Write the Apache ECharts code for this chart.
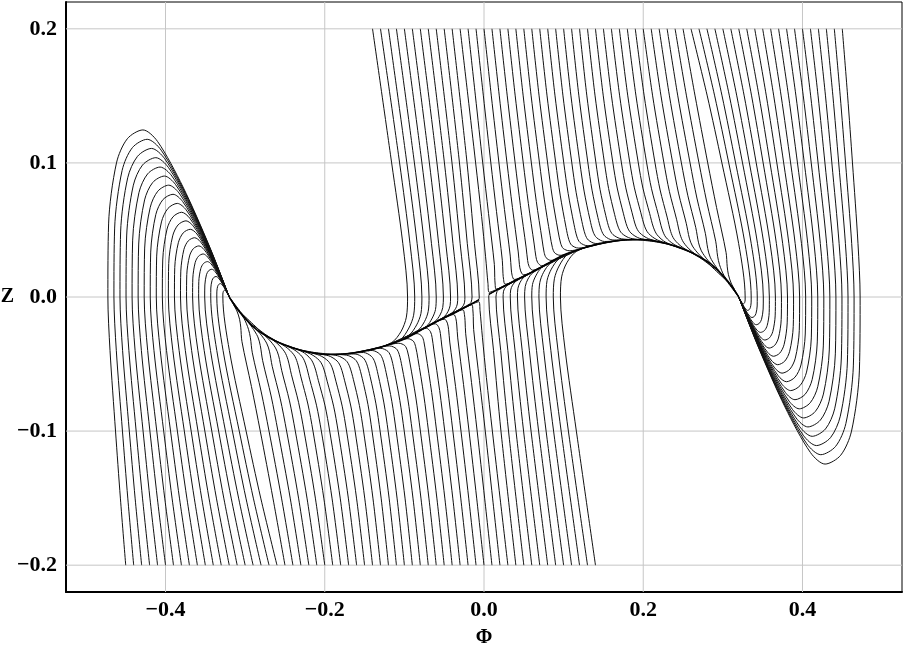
<!DOCTYPE html>
<html><head><meta charset="utf-8">
<script src="https://cdn.jsdelivr.net/npm/echarts@6/dist/echarts.min.js"></script>
<style>html,body{margin:0;padding:0;background:#fff}#c{width:905px;height:652px}</style>
</head><body><div id="c"></div>
<script>
const xTicks = [-0.4, -0.2, 0, 0.2, 0.4];
const yTicks = [-0.2, -0.1, 0, 0.1, 0.2];
const xRange = [-0.525, 0.525];
const yRange = [-0.22, 0.22];

// curves starting at Z = 0.2 that fall onto the left branch
const topLeftCurves = [
[[-0.14,0.2],[-0.116,0.1],[-0.102,0.04],[-0.096,0],[-0.0975,-0.015],[-0.104,-0.0255],[-0.116,-0.034],[-0.146,-0.0403]],
[[-0.13,0.2],[-0.106,0.1],[-0.093,0.04],[-0.087,0],[-0.0884,-0.0136],[-0.0943,-0.0231],[-0.1052,-0.0318],[-0.1352,-0.0385]],
[[-0.12,0.2],[-0.0969,0.1],[-0.084,0.04],[-0.078,0],[-0.0792,-0.0123],[-0.0846,-0.0208],[-0.0944,-0.0285],[-0.1244,-0.0364]],
[[-0.11,0.2],[-0.0874,0.1],[-0.075,0.04],[-0.069,0],[-0.0701,-0.0108],[-0.0748,-0.0184],[-0.0834,-0.0251],[-0.1134,-0.0342]],
[[-0.1,0.2],[-0.078,0.1],[-0.066,0.04],[-0.06,0],[-0.0609,-0.0093],[-0.065,-0.0157],[-0.0724,-0.0219],[-0.1024,-0.0318]],
[[-0.09,0.2],[-0.0686,0.1],[-0.057,0.04],[-0.051,0],[-0.0518,-0.0079],[-0.0552,-0.0134],[-0.0616,-0.0182],[-0.0916,-0.0285]],
[[-0.08,0.2],[-0.0591,0.1],[-0.048,0.04],[-0.042,0],[-0.0426,-0.0065],[-0.0454,-0.011],[-0.0506,-0.015],[-0.0806,-0.0252]],
[[-0.07,0.2],[-0.0497,0.1],[-0.039,0.04],[-0.033,0],[-0.0335,-0.0052],[-0.0358,-0.0088],[-0.04,-0.0117],[-0.07,-0.022]],
[[-0.06,0.2],[-0.0402,0.1],[-0.03,0.04],[-0.024,0],[-0.0244,-0.0039],[-0.0261,-0.0065],[-0.0292,-0.0086],[-0.0592,-0.0183]],
[[-0.05,0.2],[-0.0308,0.1],[-0.021,0.04],[-0.015,0],[-0.0163,-0.0041],[-0.0182,-0.0053],[-0.0482,-0.015]],
[[-0.04,0.2],[-0.0213,0.1],[-0.012,0.04],[-0.006,0],[-0.0068,-0.002],[-0.0374,-0.0118]]
];

// curves starting at Z = 0.2 that settle onto the hump
const topMidCurves = [
[[-0.03,0.2],[-0.0202,0.15],[-0.0105,0.1],[-0.003,0.06],[0.002,0.03],[0.005,0.01],[0.0065,0.0035],[0.02,0.0068],[0.05,0.0157]],
[[-0.02,0.2],[-0.0108,0.15],[-0.0016,0.1],[0.0057,0.0622],[0.013,0.0243],[0.0135,0.0145],[0.014,0.0096],[0.0151,0.0059],[0.0501,0.0157]],
[[-0.01,0.2],[-0.0008,0.15],[0.0086,0.1],[0.0157,0.0637],[0.023,0.0274],[0.0238,0.0177],[0.0246,0.013],[0.0265,0.0096],[0.0615,0.019]],
[[0,0.2],[0.0092,0.15],[0.0188,0.1],[0.0257,0.0653],[0.033,0.0305],[0.0342,0.0209],[0.0353,0.0162],[0.038,0.0131],[0.073,0.0225]],
[[0.01,0.2],[0.0192,0.15],[0.0289,0.1],[0.0357,0.0668],[0.043,0.0336],[0.0445,0.0241],[0.046,0.0195],[0.0495,0.0166],[0.0845,0.0264]],
[[0.02,0.2],[0.0292,0.15],[0.0391,0.1],[0.0457,0.0683],[0.053,0.0366],[0.0548,0.0272],[0.0567,0.0227],[0.061,0.02],[0.096,0.0302]],
[[0.03,0.2],[0.0392,0.15],[0.0493,0.1],[0.0557,0.0698],[0.063,0.0395],[0.0652,0.0301],[0.0673,0.0258],[0.0724,0.0233],[0.1074,0.0333]],
[[0.04,0.2],[0.0492,0.15],[0.0595,0.1],[0.0657,0.0713],[0.073,0.0426],[0.0755,0.0333],[0.078,0.0293],[0.0839,0.0273],[0.1189,0.0355]],
[[0.05,0.2],[0.0592,0.15],[0.0697,0.1],[0.0757,0.073],[0.083,0.046],[0.0859,0.0369],[0.0888,0.0329],[0.0955,0.0311],[0.1305,0.0379]],
[[0.06,0.2],[0.0692,0.15],[0.0799,0.1],[0.0857,0.0746],[0.093,0.0492],[0.0962,0.0402],[0.0995,0.0362],[0.107,0.0345],[0.142,0.0392]],
[[0.07,0.2],[0.0792,0.15],[0.0901,0.1],[0.0957,0.076],[0.103,0.052],[0.1065,0.0428],[0.1101,0.0386],[0.1184,0.0365],[0.1534,0.0407]],
[[0.08,0.2],[0.0892,0.15],[0.1002,0.1],[0.1057,0.0772],[0.113,0.0543],[0.1168,0.0448],[0.1206,0.0406],[0.1295,0.0383],[0.1645,0.0418]],
[[0.09,0.2],[0.0992,0.15],[0.1103,0.1],[0.1157,0.0781],[0.123,0.0562],[0.127,0.0468],[0.131,0.0425],[0.1404,0.0399],[0.1754,0.0426]],
[[0.1,0.2],[0.1092,0.15],[0.1204,0.1],[0.1257,0.079],[0.133,0.058],[0.1372,0.0484],[0.1415,0.0442],[0.1512,0.0414],[0.1862,0.0428]],
[[0.11,0.2],[0.1192,0.15],[0.1305,0.1],[0.1357,0.0797],[0.143,0.0594],[0.1474,0.0498],[0.1518,0.0453],[0.1619,0.0425],[0.1969,0.0428]],
[[0.12,0.2],[0.1292,0.15],[0.1406,0.1],[0.1457,0.0803],[0.153,0.0606],[0.1575,0.0509],[0.162,0.0465],[0.1725,0.0434],[0.2075,0.0425]],
[[0.13,0.2],[0.1395,0.15],[0.1513,0.1],[0.1565,0.0809],[0.164,0.0617],[0.1686,0.0521],[0.1732,0.0474],[0.184,0.0438],[0.219,0.0411]],
[[0.14,0.2],[0.1498,0.15],[0.1619,0.1],[0.1673,0.0813],[0.175,0.0625],[0.1797,0.0526],[0.1844,0.0478],[0.1954,0.0438],[0.2304,0.0396]],
[[0.15,0.2],[0.1601,0.15],[0.1726,0.1],[0.1781,0.0814],[0.186,0.0628],[0.1907,0.0528],[0.1955,0.0479],[0.2066,0.0435],[0.2416,0.0377]],
[[0.16,0.2],[0.1704,0.15],[0.1832,0.1],[0.1889,0.0814],[0.197,0.0628],[0.2017,0.0528],[0.2065,0.0475],[0.2176,0.0426],[0.2526,0.0352]],
[[0.17,0.2],[0.1806,0.15],[0.1938,0.1],[0.1996,0.0812],[0.208,0.0624],[0.2127,0.0521],[0.2174,0.0464],[0.2283,0.0408],[0.2633,0.0326]],
[[0.18,0.2],[0.1909,0.15],[0.2043,0.1],[0.2104,0.0807],[0.219,0.0613],[0.2236,0.0507],[0.2282,0.0447],[0.2388,0.0392],[0.2738,0.0293]],
[[0.19,0.2],[0.2012,0.15],[0.2148,0.1],[0.2212,0.0798],[0.23,0.0596],[0.2344,0.0489],[0.2388,0.0431],[0.249,0.0372],[0.284,0.025]],
[[0.2,0.2],[0.2118,0.15],[0.226,0.1],[0.2328,0.0788],[0.242,0.0576],[0.2462,0.0468],[0.2504,0.0409],[0.26,0.0345],[0.295,0.0192]],
[[0.21,0.2],[0.2223,0.15],[0.237,0.1],[0.2443,0.0775],[0.254,0.055],[0.2579,0.0439],[0.2618,0.038],[0.2708,0.0313],[0.3058,0.0115]],
[[0.22,0.2],[0.2329,0.15],[0.2479,0.1],[0.2559,0.0759],[0.266,0.0517],[0.2695,0.0404],[0.273,0.0344],[0.2812,0.0274],[0.314,0.0065]],
[[0.23,0.2],[0.2434,0.15],[0.2588,0.1],[0.2674,0.0738],[0.278,0.0475],[0.281,0.0362],[0.2841,0.0297],[0.2912,0.0227],[0.32,0]],
[[0.24,0.2],[0.2543,0.15],[0.27,0.1],[0.2798,0.0708],[0.291,0.0416],[0.2934,0.0304],[0.2958,0.0241],[0.3014,0.0161],[0.32,0]],
[[0.25,0.2],[0.2651,0.15],[0.281,0.1],[0.2921,0.0667],[0.304,0.0333],[0.3055,0.0225],[0.307,0.0166],[0.3104,0.0104],[0.32,0]]
];

// curves starting at Z = 0.2 that loop below the right fold
const topLoopCurves = [
[[0.26,0.2],[0.2804,0.15],[0.2988,0.1],[0.3198,0.04],[0.328,0],[0.328,-0.0022],[0.3274,-0.0041],[0.3267,-0.0048],[0.3257,-0.0051],[0.3247,-0.0048],[0.323,-0.0034],[0.3213,-0.0016],[0.32,0]],
[[0.27,0.2],[0.2897,0.15],[0.3074,0.1],[0.3277,0.04],[0.3356,0],[0.3355,-0.0044],[0.3345,-0.008],[0.3331,-0.0094],[0.3311,-0.01],[0.3292,-0.0093],[0.3259,-0.0066],[0.3226,-0.003],[0.32,0]],
[[0.28,0.2],[0.299,0.15],[0.316,0.1],[0.3356,0.04],[0.3432,0],[0.3431,-0.0067],[0.3416,-0.0123],[0.3395,-0.0145],[0.3365,-0.0153],[0.3337,-0.0143],[0.3288,-0.0101],[0.3238,-0.0047],[0.32,0]],
[[0.29,0.2],[0.3082,0.15],[0.3247,0.1],[0.3435,0.04],[0.3508,0],[0.3506,-0.009],[0.3486,-0.0166],[0.3459,-0.0196],[0.3419,-0.0207],[0.3382,-0.0193],[0.3317,-0.0136],[0.3251,-0.0063],[0.32,0]],
[[0.3,0.2],[0.3175,0.15],[0.3333,0.1],[0.3514,0.04],[0.3584,0],[0.3582,-0.0116],[0.3557,-0.0212],[0.3523,-0.025],[0.3473,-0.0264],[0.3427,-0.0246],[0.3346,-0.0174],[0.3263,-0.0081],[0.32,0]],
[[0.31,0.2],[0.3268,0.15],[0.3419,0.1],[0.3593,0.04],[0.366,0],[0.3657,-0.0141],[0.3627,-0.0258],[0.3586,-0.0304],[0.3527,-0.0321],[0.3472,-0.0299],[0.3375,-0.0212],[0.3276,-0.0098],[0.32,0]],
[[0.32,0.2],[0.3361,0.15],[0.3506,0.1],[0.3672,0.04],[0.3736,0],[0.3733,-0.0167],[0.3698,-0.0306],[0.365,-0.0361],[0.3581,-0.0381],[0.3517,-0.0355],[0.3404,-0.0251],[0.3288,-0.0116],[0.32,0]],
[[0.33,0.2],[0.3454,0.15],[0.3592,0.1],[0.3751,0.04],[0.3812,0],[0.3808,-0.0193],[0.3769,-0.0355],[0.3714,-0.0419],[0.3635,-0.0442],[0.3561,-0.0412],[0.3433,-0.0291],[0.33,-0.0135],[0.32,0]],
[[0.34,0.2],[0.3546,0.15],[0.3678,0.1],[0.3829,0.04],[0.3888,0],[0.3884,-0.0221],[0.3839,-0.0405],[0.3778,-0.0478],[0.3689,-0.0505],[0.3606,-0.047],[0.3462,-0.0332],[0.3313,-0.0154],[0.32,0]],
[[0.35,0.2],[0.3639,0.15],[0.3764,0.1],[0.3908,0.04],[0.3964,0],[0.396,-0.0249],[0.391,-0.0456],[0.3842,-0.0538],[0.3743,-0.0568],[0.3651,-0.0529],[0.3491,-0.0374],[0.3325,-0.0173],[0.32,0]],
[[0.36,0.2],[0.3732,0.15],[0.3851,0.1],[0.3987,0.04],[0.404,0],[0.4035,-0.0276],[0.3981,-0.0507],[0.3906,-0.0598],[0.3798,-0.0632],[0.3696,-0.0588],[0.352,-0.0416],[0.3338,-0.0193],[0.32,0]],
[[0.37,0.2],[0.3825,0.15],[0.3937,0.1],[0.4066,0.04],[0.4116,0],[0.4111,-0.0305],[0.4051,-0.056],[0.3969,-0.0661],[0.3852,-0.0698],[0.3741,-0.065],[0.3549,-0.0459],[0.335,-0.0213],[0.32,0]],
[[0.38,0.2],[0.3918,0.15],[0.4023,0.1],[0.4145,0.04],[0.4192,0],[0.4186,-0.0335],[0.4122,-0.0615],[0.4033,-0.0726],[0.3906,-0.0766],[0.3786,-0.0713],[0.3578,-0.0504],[0.3363,-0.0234],[0.32,0]],
[[0.39,0.2],[0.401,0.15],[0.411,0.1],[0.4224,0.04],[0.4268,0],[0.4262,-0.0365],[0.4192,-0.0669],[0.4097,-0.0789],[0.396,-0.0834],[0.3831,-0.0776],[0.3607,-0.0549],[0.3375,-0.0254],[0.32,0]],
[[0.4,0.2],[0.4103,0.15],[0.4196,0.1],[0.4303,0.04],[0.4344,0],[0.4337,-0.0395],[0.4263,-0.0724],[0.4161,-0.0854],[0.4014,-0.0902],[0.3876,-0.084],[0.3635,-0.0594],[0.3388,-0.0275],[0.32,0]],
[[0.41,0.2],[0.4196,0.15],[0.4282,0.1],[0.4382,0.04],[0.442,0],[0.4413,-0.0424],[0.4334,-0.0778],[0.4225,-0.0918],[0.4068,-0.0969],[0.392,-0.0902],[0.3664,-0.0638],[0.34,-0.0296],[0.32,0]],
[[0.42,0.2],[0.4289,0.15],[0.4369,0.1],[0.446,0.04],[0.4496,0],[0.4488,-0.0455],[0.4404,-0.0834],[0.4289,-0.0984],[0.4122,-0.1039],[0.3965,-0.0967],[0.3693,-0.0684],[0.3413,-0.0317],[0.32,0]],
[[0.43,0.2],[0.4382,0.15],[0.4455,0.1],[0.4539,0.04],[0.4572,0],[0.4564,-0.0485],[0.4475,-0.0889],[0.4352,-0.1049],[0.4176,-0.1108],[0.401,-0.1031],[0.3722,-0.0729],[0.3425,-0.0338],[0.32,0]],
[[0.44,0.2],[0.4474,0.15],[0.4541,0.1],[0.4618,0.04],[0.4648,0],[0.4639,-0.0514],[0.4545,-0.0944],[0.4416,-0.1114],[0.423,-0.1176],[0.4055,-0.1095],[0.3751,-0.0774],[0.3438,-0.0359],[0.32,0]],
[[0.45,0.2],[0.4567,0.15],[0.4628,0.1],[0.4697,0.04],[0.4724,0],[0.4715,-0.0545],[0.4616,-0.1],[0.448,-0.118],[0.4284,-0.1246],[0.41,-0.116],[0.378,-0.082],[0.345,-0.038],[0.32,0]]
];

// curves starting at Z = -0.2 that rise onto the right branch
const bottomRightCurves = [
[[0.14,-0.2],[0.116,-0.1],[0.102,-0.04],[0.096,0],[0.0975,0.015],[0.104,0.0255],[0.116,0.034],[0.146,0.0403]],
[[0.13,-0.2],[0.106,-0.1],[0.093,-0.04],[0.087,0],[0.0884,0.0136],[0.0943,0.0231],[0.1052,0.0318],[0.1352,0.0385]],
[[0.12,-0.2],[0.0969,-0.1],[0.084,-0.04],[0.078,0],[0.0792,0.0123],[0.0846,0.0208],[0.0944,0.0285],[0.1244,0.0364]],
[[0.11,-0.2],[0.0874,-0.1],[0.075,-0.04],[0.069,0],[0.0701,0.0108],[0.0748,0.0184],[0.0834,0.0251],[0.1134,0.0342]],
[[0.1,-0.2],[0.078,-0.1],[0.066,-0.04],[0.06,0],[0.0609,0.0093],[0.065,0.0157],[0.0724,0.0219],[0.1024,0.0318]],
[[0.09,-0.2],[0.0686,-0.1],[0.057,-0.04],[0.051,0],[0.0518,0.0079],[0.0552,0.0134],[0.0616,0.0182],[0.0916,0.0285]],
[[0.08,-0.2],[0.0591,-0.1],[0.048,-0.04],[0.042,0],[0.0426,0.0065],[0.0454,0.011],[0.0506,0.015],[0.0806,0.0252]],
[[0.07,-0.2],[0.0497,-0.1],[0.039,-0.04],[0.033,0],[0.0335,0.0052],[0.0358,0.0088],[0.04,0.0117],[0.07,0.022]],
[[0.06,-0.2],[0.0402,-0.1],[0.03,-0.04],[0.024,0],[0.0244,0.0039],[0.0261,0.0065],[0.0292,0.0086],[0.0592,0.0183]],
[[0.05,-0.2],[0.0308,-0.1],[0.021,-0.04],[0.015,0],[0.0163,0.0041],[0.0182,0.0053],[0.0482,0.015]],
[[0.04,-0.2],[0.0213,-0.1],[0.012,-0.04],[0.006,0],[0.0068,0.002],[0.0374,0.0118]]
];

// curves starting at Z = -0.2 that settle into the trough
const bottomMidCurves = [
[[0.03,-0.2],[0.0202,-0.15],[0.0105,-0.1],[0.003,-0.06],[-0.002,-0.03],[-0.005,-0.01],[-0.0065,-0.0035],[-0.02,-0.0068],[-0.05,-0.0157]],
[[0.02,-0.2],[0.0108,-0.15],[0.0016,-0.1],[-0.0057,-0.0622],[-0.013,-0.0243],[-0.0135,-0.0145],[-0.014,-0.0096],[-0.0151,-0.0059],[-0.0501,-0.0157]],
[[0.01,-0.2],[0.0008,-0.15],[-0.0086,-0.1],[-0.0157,-0.0637],[-0.023,-0.0274],[-0.0238,-0.0177],[-0.0246,-0.013],[-0.0265,-0.0096],[-0.0615,-0.019]],
[[0,-0.2],[-0.0092,-0.15],[-0.0188,-0.1],[-0.0257,-0.0653],[-0.033,-0.0305],[-0.0342,-0.0209],[-0.0353,-0.0162],[-0.038,-0.0131],[-0.073,-0.0225]],
[[-0.01,-0.2],[-0.0192,-0.15],[-0.0289,-0.1],[-0.0357,-0.0668],[-0.043,-0.0336],[-0.0445,-0.0241],[-0.046,-0.0195],[-0.0495,-0.0166],[-0.0845,-0.0264]],
[[-0.02,-0.2],[-0.0292,-0.15],[-0.0391,-0.1],[-0.0457,-0.0683],[-0.053,-0.0366],[-0.0548,-0.0272],[-0.0567,-0.0227],[-0.061,-0.02],[-0.096,-0.0302]],
[[-0.03,-0.2],[-0.0392,-0.15],[-0.0493,-0.1],[-0.0557,-0.0698],[-0.063,-0.0395],[-0.0652,-0.0301],[-0.0673,-0.0258],[-0.0724,-0.0233],[-0.1074,-0.0333]],
[[-0.04,-0.2],[-0.0492,-0.15],[-0.0595,-0.1],[-0.0657,-0.0713],[-0.073,-0.0426],[-0.0755,-0.0333],[-0.078,-0.0293],[-0.0839,-0.0273],[-0.1189,-0.0355]],
[[-0.05,-0.2],[-0.0592,-0.15],[-0.0697,-0.1],[-0.0757,-0.073],[-0.083,-0.046],[-0.0859,-0.0369],[-0.0888,-0.0329],[-0.0955,-0.0311],[-0.1305,-0.0379]],
[[-0.06,-0.2],[-0.0692,-0.15],[-0.0799,-0.1],[-0.0857,-0.0746],[-0.093,-0.0492],[-0.0962,-0.0402],[-0.0995,-0.0362],[-0.107,-0.0345],[-0.142,-0.0392]],
[[-0.07,-0.2],[-0.0792,-0.15],[-0.0901,-0.1],[-0.0957,-0.076],[-0.103,-0.052],[-0.1065,-0.0428],[-0.1101,-0.0386],[-0.1184,-0.0365],[-0.1534,-0.0407]],
[[-0.08,-0.2],[-0.0892,-0.15],[-0.1002,-0.1],[-0.1057,-0.0772],[-0.113,-0.0543],[-0.1168,-0.0448],[-0.1206,-0.0406],[-0.1295,-0.0383],[-0.1645,-0.0418]],
[[-0.09,-0.2],[-0.0992,-0.15],[-0.1103,-0.1],[-0.1157,-0.0781],[-0.123,-0.0562],[-0.127,-0.0468],[-0.131,-0.0425],[-0.1404,-0.0399],[-0.1754,-0.0426]],
[[-0.1,-0.2],[-0.1092,-0.15],[-0.1204,-0.1],[-0.1257,-0.079],[-0.133,-0.058],[-0.1372,-0.0484],[-0.1415,-0.0442],[-0.1512,-0.0414],[-0.1862,-0.0428]],
[[-0.11,-0.2],[-0.1192,-0.15],[-0.1305,-0.1],[-0.1357,-0.0797],[-0.143,-0.0594],[-0.1474,-0.0498],[-0.1518,-0.0453],[-0.1619,-0.0425],[-0.1969,-0.0428]],
[[-0.12,-0.2],[-0.1292,-0.15],[-0.1406,-0.1],[-0.1457,-0.0803],[-0.153,-0.0606],[-0.1575,-0.0509],[-0.162,-0.0465],[-0.1725,-0.0434],[-0.2075,-0.0425]],
[[-0.13,-0.2],[-0.1395,-0.15],[-0.1513,-0.1],[-0.1565,-0.0809],[-0.164,-0.0617],[-0.1686,-0.0521],[-0.1732,-0.0474],[-0.184,-0.0438],[-0.219,-0.0411]],
[[-0.14,-0.2],[-0.1498,-0.15],[-0.1619,-0.1],[-0.1673,-0.0813],[-0.175,-0.0625],[-0.1797,-0.0526],[-0.1844,-0.0478],[-0.1954,-0.0438],[-0.2304,-0.0396]],
[[-0.15,-0.2],[-0.1601,-0.15],[-0.1726,-0.1],[-0.1781,-0.0814],[-0.186,-0.0628],[-0.1907,-0.0528],[-0.1955,-0.0479],[-0.2066,-0.0435],[-0.2416,-0.0377]],
[[-0.16,-0.2],[-0.1704,-0.15],[-0.1832,-0.1],[-0.1889,-0.0814],[-0.197,-0.0628],[-0.2017,-0.0528],[-0.2065,-0.0475],[-0.2176,-0.0426],[-0.2526,-0.0352]],
[[-0.17,-0.2],[-0.1806,-0.15],[-0.1938,-0.1],[-0.1996,-0.0812],[-0.208,-0.0624],[-0.2127,-0.0521],[-0.2174,-0.0464],[-0.2283,-0.0408],[-0.2633,-0.0326]],
[[-0.18,-0.2],[-0.1909,-0.15],[-0.2043,-0.1],[-0.2104,-0.0807],[-0.219,-0.0613],[-0.2236,-0.0507],[-0.2282,-0.0447],[-0.2388,-0.0392],[-0.2738,-0.0293]],
[[-0.19,-0.2],[-0.2012,-0.15],[-0.2148,-0.1],[-0.2212,-0.0798],[-0.23,-0.0596],[-0.2344,-0.0489],[-0.2388,-0.0431],[-0.249,-0.0372],[-0.284,-0.025]],
[[-0.2,-0.2],[-0.2118,-0.15],[-0.226,-0.1],[-0.2328,-0.0788],[-0.242,-0.0576],[-0.2462,-0.0468],[-0.2504,-0.0409],[-0.26,-0.0345],[-0.295,-0.0192]],
[[-0.21,-0.2],[-0.2223,-0.15],[-0.237,-0.1],[-0.2443,-0.0775],[-0.254,-0.055],[-0.2579,-0.0439],[-0.2618,-0.038],[-0.2708,-0.0313],[-0.3058,-0.0115]],
[[-0.22,-0.2],[-0.2329,-0.15],[-0.2479,-0.1],[-0.2559,-0.0759],[-0.266,-0.0517],[-0.2695,-0.0404],[-0.273,-0.0344],[-0.2812,-0.0274],[-0.314,-0.0065]],
[[-0.23,-0.2],[-0.2434,-0.15],[-0.2588,-0.1],[-0.2674,-0.0738],[-0.278,-0.0475],[-0.281,-0.0362],[-0.2841,-0.0297],[-0.2912,-0.0227],[-0.32,0]],
[[-0.24,-0.2],[-0.2543,-0.15],[-0.27,-0.1],[-0.2798,-0.0708],[-0.291,-0.0416],[-0.2934,-0.0304],[-0.2958,-0.0241],[-0.3014,-0.0161],[-0.32,0]],
[[-0.25,-0.2],[-0.2651,-0.15],[-0.281,-0.1],[-0.2921,-0.0667],[-0.304,-0.0333],[-0.3055,-0.0225],[-0.307,-0.0166],[-0.3104,-0.0104],[-0.32,0]]
];

// curves starting at Z = -0.2 that loop above the left fold
const bottomLoopCurves = [
[[-0.26,-0.2],[-0.2804,-0.15],[-0.2988,-0.1],[-0.3198,-0.04],[-0.328,0],[-0.328,0.0022],[-0.3274,0.0041],[-0.3267,0.0048],[-0.3257,0.0051],[-0.3247,0.0048],[-0.323,0.0034],[-0.3213,0.0016],[-0.32,0]],
[[-0.27,-0.2],[-0.2897,-0.15],[-0.3074,-0.1],[-0.3277,-0.04],[-0.3356,0],[-0.3355,0.0044],[-0.3345,0.008],[-0.3331,0.0094],[-0.3311,0.01],[-0.3292,0.0093],[-0.3259,0.0066],[-0.3226,0.003],[-0.32,0]],
[[-0.28,-0.2],[-0.299,-0.15],[-0.316,-0.1],[-0.3356,-0.04],[-0.3432,0],[-0.3431,0.0067],[-0.3416,0.0123],[-0.3395,0.0145],[-0.3365,0.0153],[-0.3337,0.0143],[-0.3288,0.0101],[-0.3238,0.0047],[-0.32,0]],
[[-0.29,-0.2],[-0.3082,-0.15],[-0.3247,-0.1],[-0.3435,-0.04],[-0.3508,0],[-0.3506,0.009],[-0.3486,0.0166],[-0.3459,0.0196],[-0.3419,0.0207],[-0.3382,0.0193],[-0.3317,0.0136],[-0.3251,0.0063],[-0.32,0]],
[[-0.3,-0.2],[-0.3175,-0.15],[-0.3333,-0.1],[-0.3514,-0.04],[-0.3584,0],[-0.3582,0.0116],[-0.3557,0.0212],[-0.3523,0.025],[-0.3473,0.0264],[-0.3427,0.0246],[-0.3346,0.0174],[-0.3263,0.0081],[-0.32,0]],
[[-0.31,-0.2],[-0.3268,-0.15],[-0.3419,-0.1],[-0.3593,-0.04],[-0.366,0],[-0.3657,0.0141],[-0.3627,0.0258],[-0.3586,0.0304],[-0.3527,0.0321],[-0.3472,0.0299],[-0.3375,0.0212],[-0.3276,0.0098],[-0.32,0]],
[[-0.32,-0.2],[-0.3361,-0.15],[-0.3506,-0.1],[-0.3672,-0.04],[-0.3736,0],[-0.3733,0.0167],[-0.3698,0.0306],[-0.365,0.0361],[-0.3581,0.0381],[-0.3517,0.0355],[-0.3404,0.0251],[-0.3288,0.0116],[-0.32,0]],
[[-0.33,-0.2],[-0.3454,-0.15],[-0.3592,-0.1],[-0.3751,-0.04],[-0.3812,0],[-0.3808,0.0193],[-0.3769,0.0355],[-0.3714,0.0419],[-0.3635,0.0442],[-0.3561,0.0412],[-0.3433,0.0291],[-0.33,0.0135],[-0.32,0]],
[[-0.34,-0.2],[-0.3546,-0.15],[-0.3678,-0.1],[-0.3829,-0.04],[-0.3888,0],[-0.3884,0.0221],[-0.3839,0.0405],[-0.3778,0.0478],[-0.3689,0.0505],[-0.3606,0.047],[-0.3462,0.0332],[-0.3313,0.0154],[-0.32,0]],
[[-0.35,-0.2],[-0.3639,-0.15],[-0.3764,-0.1],[-0.3908,-0.04],[-0.3964,0],[-0.396,0.0249],[-0.391,0.0456],[-0.3842,0.0538],[-0.3743,0.0568],[-0.3651,0.0529],[-0.3491,0.0374],[-0.3325,0.0173],[-0.32,0]],
[[-0.36,-0.2],[-0.3732,-0.15],[-0.3851,-0.1],[-0.3987,-0.04],[-0.404,0],[-0.4035,0.0276],[-0.3981,0.0507],[-0.3906,0.0598],[-0.3798,0.0632],[-0.3696,0.0588],[-0.352,0.0416],[-0.3338,0.0193],[-0.32,0]],
[[-0.37,-0.2],[-0.3825,-0.15],[-0.3937,-0.1],[-0.4066,-0.04],[-0.4116,0],[-0.4111,0.0305],[-0.4051,0.056],[-0.3969,0.0661],[-0.3852,0.0698],[-0.3741,0.065],[-0.3549,0.0459],[-0.335,0.0213],[-0.32,0]],
[[-0.38,-0.2],[-0.3918,-0.15],[-0.4023,-0.1],[-0.4145,-0.04],[-0.4192,0],[-0.4186,0.0335],[-0.4122,0.0615],[-0.4033,0.0726],[-0.3906,0.0766],[-0.3786,0.0713],[-0.3578,0.0504],[-0.3363,0.0234],[-0.32,0]],
[[-0.39,-0.2],[-0.401,-0.15],[-0.411,-0.1],[-0.4224,-0.04],[-0.4268,0],[-0.4262,0.0365],[-0.4192,0.0669],[-0.4097,0.0789],[-0.396,0.0834],[-0.3831,0.0776],[-0.3607,0.0549],[-0.3375,0.0254],[-0.32,0]],
[[-0.4,-0.2],[-0.4103,-0.15],[-0.4196,-0.1],[-0.4303,-0.04],[-0.4344,0],[-0.4337,0.0395],[-0.4263,0.0724],[-0.4161,0.0854],[-0.4014,0.0902],[-0.3876,0.084],[-0.3635,0.0594],[-0.3388,0.0275],[-0.32,0]],
[[-0.41,-0.2],[-0.4196,-0.15],[-0.4282,-0.1],[-0.4382,-0.04],[-0.442,0],[-0.4413,0.0424],[-0.4334,0.0778],[-0.4225,0.0918],[-0.4068,0.0969],[-0.392,0.0902],[-0.3664,0.0638],[-0.34,0.0296],[-0.32,0]],
[[-0.42,-0.2],[-0.4289,-0.15],[-0.4369,-0.1],[-0.446,-0.04],[-0.4496,0],[-0.4488,0.0455],[-0.4404,0.0834],[-0.4289,0.0984],[-0.4122,0.1039],[-0.3965,0.0967],[-0.3693,0.0684],[-0.3413,0.0317],[-0.32,0]],
[[-0.43,-0.2],[-0.4382,-0.15],[-0.4455,-0.1],[-0.4539,-0.04],[-0.4572,0],[-0.4564,0.0485],[-0.4475,0.0889],[-0.4352,0.1049],[-0.4176,0.1108],[-0.401,0.1031],[-0.3722,0.0729],[-0.3425,0.0338],[-0.32,0]],
[[-0.44,-0.2],[-0.4474,-0.15],[-0.4541,-0.1],[-0.4618,-0.04],[-0.4648,0],[-0.4639,0.0514],[-0.4545,0.0944],[-0.4416,0.1114],[-0.423,0.1176],[-0.4055,0.1095],[-0.3751,0.0774],[-0.3438,0.0359],[-0.32,0]],
[[-0.45,-0.2],[-0.4567,-0.15],[-0.4628,-0.1],[-0.4697,-0.04],[-0.4724,0],[-0.4715,0.0545],[-0.4616,0.1],[-0.448,0.118],[-0.4284,0.1246],[-0.41,0.116],[-0.378,0.082],[-0.345,0.038],[-0.32,0]]
];

// dense bundles where the trajectories pile up
const bundleRight = [[0.006,0.002],[0.02,0.0065],[0.04,0.0127],[0.06,0.0186],[0.08,0.025],[0.1,0.0314],[0.12,0.0357],[0.14,0.039],[0.16,0.0414],[0.18,0.0427],[0.2,0.0428],[0.22,0.0412],[0.24,0.038],[0.26,0.0335],[0.28,0.0268],[0.29,0.0222],[0.3,0.016],[0.31,0.009],[0.32,0]];
const bundleLeft = [[-0.006,-0.002],[-0.02,-0.0065],[-0.04,-0.0127],[-0.06,-0.0186],[-0.08,-0.025],[-0.1,-0.0314],[-0.12,-0.0357],[-0.14,-0.039],[-0.16,-0.0414],[-0.18,-0.0427],[-0.2,-0.0428],[-0.22,-0.0412],[-0.24,-0.038],[-0.26,-0.0335],[-0.28,-0.0268],[-0.29,-0.0222],[-0.3,-0.016],[-0.31,-0.009],[-0.32,0]];

const fontFam = '"Liberation Serif", "Times New Roman", serif';
const fmt = v => (v < 0 ? '\u2212' : '') + Math.abs(v).toFixed(1);

const series = [];
xTicks.forEach(v => series.push({type:'line', data:[[v, yRange[0]],[v, yRange[1]]], showSymbol:false, silent:true, z:1,
  lineStyle:{color:'#c6c6c6', width:1}}));
yTicks.forEach(v => series.push({type:'line', data:[[xRange[0], v],[xRange[1], v]], showSymbol:false, silent:true, z:1,
  lineStyle:{color:'#c6c6c6', width:1}}));
[].concat(topLeftCurves, topMidCurves, topLoopCurves, bottomRightCurves, bottomMidCurves, bottomLoopCurves)
  .forEach(d => series.push({type:'line', data:d, showSymbol:false, smooth:0.3, silent:true, z:3,
    lineStyle:{color:'#111', width:1}}));
[bundleLeft, bundleRight].forEach(d => series.push({type:'line', data:d, showSymbol:false, smooth:0.3, silent:true, z:4,
  lineStyle:{color:'#000', width:1.5}}));

const chart = echarts.init(document.getElementById('c'), null, {renderer:'canvas'});
chart.setOption({
  animation:false,
  backgroundColor:'#fff',
  grid:{left:66, right:3, top:2, bottom:60, containLabel:false, outerBoundsMode:'none',
    show:true, borderColor:'#000', borderWidth:1, backgroundColor:'transparent'},
  xAxis:{type:'value', min:xRange[0], max:xRange[1],
    axisLine:{show:true, onZero:false, lineStyle:{color:'#000', width:2}},
    axisTick:{show:false}, splitLine:{show:false},
    axisLabel:{customValues:xTicks, formatter:fmt, color:'#000', fontFamily:fontFam, fontWeight:'bold', fontSize:22, margin:7},
    name:'\u03A6', nameLocation:'middle', nameGap:36, nameMoveOverlap:false,
    nameTextStyle:{color:'#000', fontFamily:fontFam, fontWeight:'bold', fontSize:20}},
  yAxis:{type:'value', min:yRange[0], max:yRange[1],
    axisLine:{show:true, onZero:false, lineStyle:{color:'#000', width:2}},
    axisTick:{show:false}, splitLine:{show:false},
    axisLabel:{customValues:yTicks, formatter:fmt, color:'#000', fontFamily:fontFam, fontWeight:'bold', fontSize:22, margin:9},
    name:'Z', nameLocation:'middle', nameGap:52, nameRotate:0, nameMoveOverlap:false,
    nameTextStyle:{color:'#000', fontFamily:fontFam, fontWeight:'bold', fontSize:20, align:'right', verticalAlign:'middle'}},
  series:series
});
</script>
</body></html>
